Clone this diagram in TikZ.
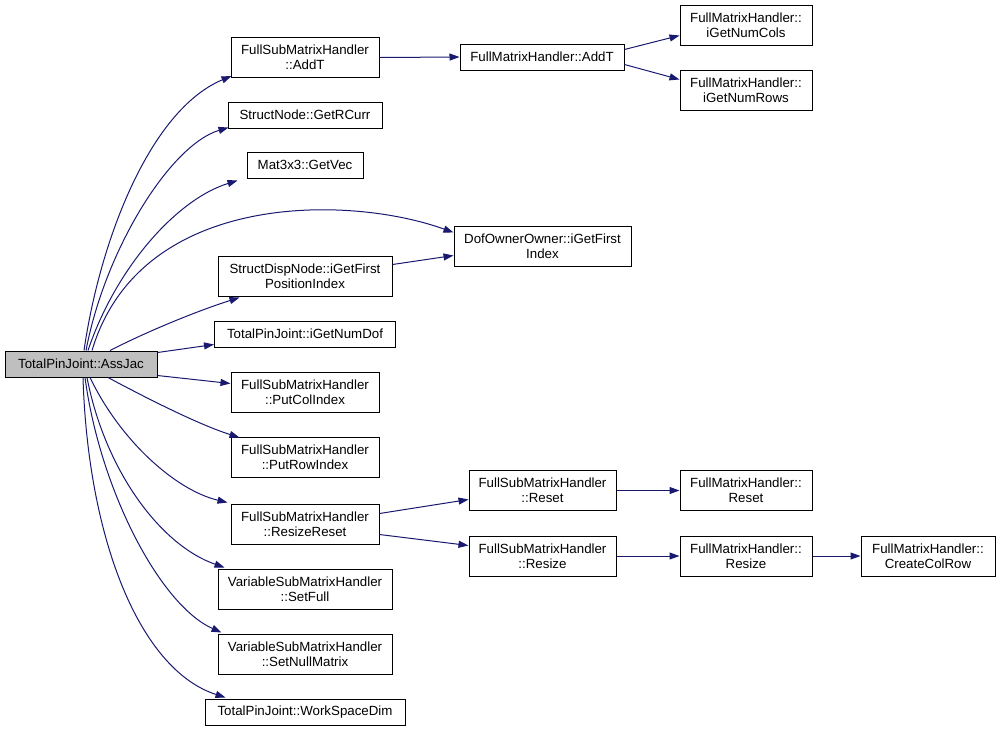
\documentclass[tikz,border=0pt]{standalone}
\usepackage{fontspec}
\setmainfont{Liberation Sans}
\usetikzlibrary{arrows.meta}
\tikzset{
  box/.style={draw=black, line width=1pt, fill=white, inner sep=0pt, align=center,
    font=\fontsize{13.3}{15}\selectfont},
  one/.style={minimum height=26pt},
  two/.style={minimum height=40pt},
  cur/.style={fill=black!25},
  edge/.style={draw=edgecol, line width=1pt, -{Triangle[length=10pt,width=7pt]}}
}
\definecolor{edgecol}{HTML}{191970}
\begin{document}
\begin{tikzpicture}[x=1pt,y=-1pt]
\useasboundingbox (0,0) rectangle (1000,732);
% nodes
\node[box,one,cur,minimum width=152pt] (aj) at (81,364) {TotalPinJoint::AssJac};
\node[box,two,minimum width=148pt] (fsaddt) at (305,57.5) {FullSubMatrixHandler\\::AddT};
\node[box,one,minimum width=164pt] (faddt) at (542,57) {FullMatrixHandler::AddT};
\node[box,two,minimum width=132pt] (cols) at (746,25) {FullMatrixHandler::\\iGetNumCols};
\node[box,two,minimum width=132pt] (rows) at (746,90) {FullMatrixHandler::\\iGetNumRows};
\node[box,one,minimum width=154pt] (rcurr) at (305,115) {StructNode::GetRCurr};
\node[box,one,minimum width=116pt] (gvec) at (305,165) {Mat3x3::GetVec};
\node[box,two,minimum width=177pt] (dof) at (542.5,246) {DofOwnerOwner::iGetFirst\\Index};
\node[box,two,minimum width=174pt] (sdn) at (305,276) {StructDispNode::iGetFirst\\PositionIndex};
\node[box,one,minimum width=181pt] (gnd) at (305,334) {TotalPinJoint::iGetNumDof};
\node[box,two,minimum width=148pt] (pci) at (305,392) {FullSubMatrixHandler\\::PutColIndex};
\node[box,two,minimum width=148pt] (pri) at (305,457) {FullSubMatrixHandler\\::PutRowIndex};
\node[box,two,minimum width=148pt] (rr) at (305,524) {FullSubMatrixHandler\\::ResizeReset};
\node[box,two,minimum width=174pt] (sf) at (305,589) {VariableSubMatrixHandler\\::SetFull};
\node[box,two,minimum width=174pt] (snm) at (305,654) {VariableSubMatrixHandler\\::SetNullMatrix};
\node[box,one,minimum width=200pt] (wsd) at (305,712) {TotalPinJoint::WorkSpaceDim};
\node[box,two,minimum width=147pt] (fsreset) at (542.5,490.5) {FullSubMatrixHandler\\::Reset};
\node[box,two,minimum width=147pt] (fsresize) at (542.5,556) {FullSubMatrixHandler\\::Resize};
\node[box,two,minimum width=132pt] (freset) at (746,490.5) {FullMatrixHandler::\\Reset};
\node[box,two,minimum width=132pt] (fresize) at (746,556) {FullMatrixHandler::\\Resize};
\node[box,two,minimum width=134pt] (ccr) at (928,556) {FullMatrixHandler::\\CreateColRow};
% fan from AssJac (upper)
\draw[edge] ([xshift=3pt]aj.north) .. controls (100,240) and (150,110) .. ([xshift=1pt,yshift=2pt]fsaddt.south west);
\draw[edge] ([xshift=5pt]aj.north) .. controls (105,250) and (170,145) .. ([xshift=1pt,yshift=1pt]rcurr.south west);
\draw[edge] ([xshift=7pt]aj.north) .. controls (115,270) and (175,200) .. ([xshift=-9pt,yshift=-2pt]gvec.south west);
\draw[edge] ([xshift=11pt]aj.north) .. controls (140,190) and (350,195) .. ([yshift=-7pt]dof.north west);
\draw[edge] ([xshift=29pt]aj.north) .. controls (150,330) and (200,310) .. ([xshift=22pt,yshift=-1pt]sdn.south west);
\draw[edge] ([yshift=-2pt]aj.north east) -- ([yshift=3pt]gnd.south west);
% fan from AssJac (lower)
\draw[edge] ([yshift=2pt]aj.south east) -- ([yshift=-12pt]pci.north west);
\draw[edge] ([xshift=27pt]aj.south) .. controls (150,400) and (200,425) .. ([xshift=9pt,yshift=-1pt]pri.north west);
\draw[edge] ([xshift=9pt]aj.south) .. controls (120,440) and (175,490) .. ([xshift=-3pt,yshift=1pt]rr.north west);
\draw[edge] ([xshift=6pt]aj.south) .. controls (105,470) and (160,545) .. ([xshift=7pt,yshift=1pt]sf.north west);
\draw[edge] ([xshift=4pt]aj.south) .. controls (100,490) and (160,605) .. ([xshift=4pt,yshift=1pt]snm.north west);
\draw[edge] ([xshift=2pt]aj.south) .. controls (88,540) and (140,670) .. ([xshift=21pt,yshift=1pt]wsd.north west);
% right part
\draw[edge] (fsaddt.east) -- (faddt.west);
\draw[edge] ([yshift=-6pt]faddt.north east) -- ([yshift=10pt]cols.south west);
\draw[edge] ([yshift=6pt]faddt.south east) -- ([yshift=-10pt]rows.north west);
\draw[edge] ([yshift=-9pt]sdn.north east) -- ([yshift=11pt]dof.south west);
\draw[edge] ([yshift=-10pt]rr.north east) -- ([yshift=-9pt]fsreset.west);
\draw[edge] ([yshift=10pt]rr.south east) -- ([yshift=-10pt]fsresize.north west);
\draw[edge] (fsreset.east) -- (freset.west);
\draw[edge] (fsresize.east) -- (fresize.west);
\draw[edge] (fresize.east) -- (ccr.west);
\end{tikzpicture}
\end{document}
